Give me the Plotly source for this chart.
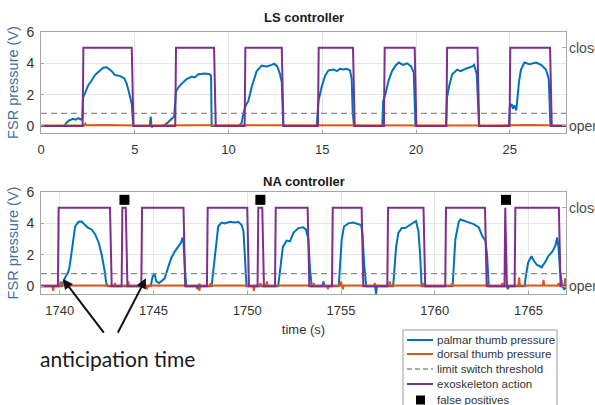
import plotly.graph_objects as go

# ---------------- data ----------------
# LS controller session (time in s, pressure in V)
ls_palmar_t = [0, 1.25, 1.35, 1.5, 1.7, 1.85, 2.0, 2.15, 2.2,
               2.24, 2.35, 2.52, 2.7, 2.88, 3.1, 3.32, 3.5, 3.65, 3.77, 3.95, 4.2, 4.43, 4.57, 4.7, 4.84, 4.92,
               5.8, 5.85, 5.9, 5.95,
               6.5, 6.7, 6.97, 7.1, 7.2, 7.35, 7.5, 7.77, 8.04, 8.2, 8.39, 8.75, 9.0, 9.07, 9.1,
               10.55, 10.7, 10.79, 10.92, 11.06, 11.24, 11.5, 11.77, 12.04, 12.3, 12.43, 12.6, 12.75, 12.84, 12.92,
               14.7, 14.76, 14.8, 14.97, 15.15, 15.33, 15.6, 15.78, 15.95, 16.13, 16.3, 16.48, 16.57, 16.62, 16.69,
               18.2, 18.25, 18.36, 18.54, 18.72, 18.9, 19.08, 19.31, 19.53, 19.74, 19.88, 19.97,
               21.6, 21.65, 21.76, 21.93, 22.2, 22.38, 22.65, 23.0, 23.1, 23.24, 23.36,
               24.96, 25.0, 25.1, 25.17, 25.26, 25.35, 25.49, 25.6, 25.78, 26.05, 26.4, 26.67, 26.93, 27.08, 27.17,
               28]
ls_palmar_v = [0, 0, 0.2, 0.35, 0.45, 0.4, 0.5, 0.4, 0.45,
               1.8, 2.1, 2.6, 2.9, 3.25, 3.5, 3.72, 3.75, 3.6, 3.5, 3.25, 3.2, 3.05, 2.7, 2.1, 1.4, 0,
               0, 0.6, -0.1, 0,
               0, 0.15, 0.5, 0.6, 2.2, 2.5, 2.7, 3.0, 3.15, 3.1, 3.3, 3.35, 3.3, 3.2, 0,
               0, 0.2, 0.8, 1.3, 1.6, 2.5, 3.5, 3.85, 3.8, 3.9, 3.97, 3.8, 3.3, 2.8, 0,
               0, 1.0, 1.6, 2.5, 3.2, 3.55, 3.6, 3.5, 3.65, 3.6, 3.65, 3.55, 3.0, 1.0, 0,
               0, 1.6, 2.0, 2.9, 3.5, 3.85, 4.05, 3.9, 4.0, 3.8, 3.4, 0,
               0, 1.8, 2.5, 3.3, 3.6, 3.5, 3.65, 3.8, 3.9, 3.3, 0,
               0, 1.2, 1.4, 1.1, 1.3, 1.0, 2.8, 3.6, 4.05, 3.95, 4.05, 3.9, 3.6, 3.0, 0,
               0]
ls_dorsal_t = [0, 2.3, 2.36, 2.42, 3.5, 5.0, 8.0, 11.5, 14.0, 16.0, 19.0, 22.0, 24.0, 26.0, 27.3, 28]
ls_dorsal_v = [0.03, 0.03, 0.15, 0.04, 0.06, 0.03, 0.05, 0.04, 0.03, 0.06, 0.04, 0.05, 0.03, 0.06, 0.04, 0.03]
ls_close_on = [2.22, 7.16, 10.86, 14.77, 18.29, 21.62, 24.99]
ls_close_off = [4.84, 9.23, 12.84, 16.64, 19.93, 23.28, 27.15]

# NA controller session
na_palmar_t = [1739, 1740.1, 1740.27, 1740.45, 1740.52, 1740.6, 1740.7, 1740.82, 1741.0, 1741.18, 1741.3,
               1741.48, 1741.71, 1741.89, 1742.07, 1742.24, 1742.39, 1742.48, 1742.55,
               1744.85, 1744.95, 1745.05, 1745.15, 1745.3, 1745.4, 1745.6, 1745.78, 1745.95, 1746.13, 1746.3,
               1746.4, 1746.48, 1746.55, 1746.6, 1746.68, 1746.75,
               1747.3, 1747.35, 1747.45, 1747.5,
               1748.1, 1748.15, 1748.27, 1748.36, 1748.45, 1748.63, 1748.8, 1749.07, 1749.34, 1749.52, 1749.7,
               1749.8, 1749.87, 1749.96,
               1751.65, 1751.7, 1751.78, 1751.9, 1752.1, 1752.28, 1752.46, 1752.73, 1752.99, 1753.13, 1753.26,
               1753.35, 1753.44,
               1754.0, 1754.06, 1754.12,
               1754.88, 1754.95, 1755.04, 1755.16, 1755.39, 1755.66, 1755.93, 1756.07, 1756.15, 1756.23, 1756.34,
               1756.82, 1756.87, 1756.92,
               1757.78, 1757.83, 1757.94, 1758.06, 1758.24, 1758.42, 1758.6, 1758.77, 1759.0, 1759.13, 1759.22, 1759.3,
               1760.95, 1761.0, 1761.1, 1761.28, 1761.37, 1761.73, 1762.08, 1762.35, 1762.53, 1762.7, 1762.79, 1762.88,
               1763.85, 1763.9, 1763.95,
               1764.8, 1764.84, 1764.98, 1765.16, 1765.3, 1765.45, 1765.55, 1765.7, 1765.87, 1766.05, 1766.27,
               1766.44, 1766.53, 1766.6, 1766.68, 1766.8, 1766.9, 1767]
na_palmar_v = [0, 0, 0.5, 0.9, 1.2, 2.0, 3.0, 3.8, 4.1, 4.12, 3.95,
               3.75, 3.6, 3.3, 2.8, 2.0, 1.0, 0.2, 0,
               0, 0.6, 0.8, 0.3, 0.2, 0.3, 0.5, 1.2, 1.8, 2.2, 2.5,
               2.6, 2.8, 3.1, 2.8, 1.0, 0,
               0, -0.2, 0.15, 0,
               0, 0.5, 2.0, 3.0, 3.8, 4.05, 4.0, 4.1, 4.05, 4.1, 3.9,
               3.5, 2.0, 0,
               0, 0.5, 1.5, 2.5, 2.9, 2.85, 3.4, 3.7, 3.75, 3.6, 3.0,
               1.0, 0,
               0, 0.3, 0,
               0, 1.5, 3.0, 3.8, 4.0, 4.05, 3.95, 3.9, 3.3, 1.5, 0,
               0, -0.5, 0,
               0, 1.0, 2.5, 3.4, 3.7, 3.7, 3.85, 4.0, 4.15, 3.5, 2.0, 0,
               0, 1.0, 3.0, 4.1, 4.25, 4.1, 3.95, 3.75, 3.2, 2.9, 2.0, 0,
               0, -0.2, 0,
               0, 0.5, 1.5, 1.9, 1.6, 1.35, 1.3, 1.2, 1.5, 1.9, 2.2,
               2.6, 3.1, 2.5, 1.0, 0, -0.2, -0.1]
na_dorsal_spike_t = [1739.65, 1740.05, 1742.95, 1743.65, 1744.65, 1747.45, 1748.05, 1750.35, 1750.7,
                     1751.05, 1753.55, 1754.3, 1755.0, 1755.1, 1756.8, 1757.6, 1759.4, 1760.9, 1762.8,
                     1763.6, 1764.5, 1765.8, 1766.6, 1766.95]
na_dorsal_spike_v = [-0.3, 0.3, 0.2, 0.3, -0.2, -0.3, 0.2, -0.3, 0.2,
                     0.3, 0.2, -0.2, 0.3, -0.2, 0.2, 0.3, 0.2, 0.15, 0.2,
                     0.2, 0.55, 0.4, 0.2, 0.5]
na_close_on = [1739.9, 1743.3, 1744.35, 1747.85, 1750.55, 1751.48, 1754.52, 1757.47, 1760.56, 1763.72, 1764.26]
na_close_off = [1742.68, 1743.52, 1746.6, 1750.0, 1750.8, 1753.22, 1756.1, 1759.4, 1762.68, 1763.76, 1766.62]
na_false_pos_t = [1743.45, 1750.7, 1763.8]
na_false_pos_v = [5.5, 5.5, 5.5]

threshold = 0.8
ls_range = [0, 28]
na_range = [1739, 1767]
closed_level, open_level = 5, 0

assert len(ls_palmar_t) == len(ls_palmar_v)
assert len(na_palmar_t) == len(na_palmar_v)

BLUE = "#0072BD"
ORANGE = "#E0561A"
PURPLE = "#7E2F8E"
GRID = "#e6e6e6"
FRAME = "#a6a6a6"
FONT = "Liberation Sans, Arial, sans-serif"


def action_wave(t0, t1, on, off, up=0.04, down=0.09):
    xs, ys = [t0], [open_level]
    for r, f in zip(on, off):
        xs += [r, r + up, f, f + down]
        ys += [open_level, closed_level, closed_level, open_level]
    xs.append(t1)
    ys.append(open_level)
    return xs, ys


def spiky(t0, t1, spikes_t, spikes_v, base=0.04, w=0.04):
    xs, ys = [t0], [base]
    for t, v in zip(spikes_t, spikes_v):
        xs += [t - w, t, t + w]
        ys += [base, v, base]
    xs.append(t1)
    ys.append(base)
    return xs, ys


fig = go.Figure()

# ---- LS panel ----
fig.add_trace(go.Scatter(x=ls_palmar_t, y=ls_palmar_v, mode="lines", line=dict(color=BLUE, width=2),
                         xaxis="x", yaxis="y", name="palmar thumb pressure"))
fig.add_trace(go.Scatter(x=ls_dorsal_t, y=ls_dorsal_v, mode="lines", line=dict(color=ORANGE, width=2),
                         xaxis="x", yaxis="y", name="dorsal thumb pressure"))
fig.add_trace(go.Scatter(x=ls_range, y=[threshold, threshold], mode="lines",
                         line=dict(color="#8c8c8c", width=1.3, dash="6px,4px"),
                         xaxis="x", yaxis="y", name="limit switch threshold"))
wx, wy = action_wave(ls_range[0], ls_range[1], ls_close_on, ls_close_off)
fig.add_trace(go.Scatter(x=wx, y=wy, mode="lines", line=dict(color=PURPLE, width=2),
                         xaxis="x", yaxis="y2", name="exoskeleton action"))

# ---- NA panel ----
fig.add_trace(go.Scatter(x=na_palmar_t, y=na_palmar_v, mode="lines", line=dict(color=BLUE, width=2),
                         xaxis="x2", yaxis="y3", name="palmar thumb pressure"))
dx, dy = spiky(na_range[0], na_range[1], na_dorsal_spike_t, na_dorsal_spike_v)
fig.add_trace(go.Scatter(x=dx, y=dy, mode="lines", line=dict(color=ORANGE, width=2),
                         xaxis="x2", yaxis="y3", name="dorsal thumb pressure"))
fig.add_trace(go.Scatter(x=na_range, y=[threshold, threshold], mode="lines",
                         line=dict(color="#8c8c8c", width=1.3, dash="6px,4px"),
                         xaxis="x2", yaxis="y3", name="limit switch threshold"))
wx, wy = action_wave(na_range[0], na_range[1], na_close_on, na_close_off)
fig.add_trace(go.Scatter(x=wx, y=wy, mode="lines", line=dict(color=PURPLE, width=2),
                         xaxis="x2", yaxis="y4", name="exoskeleton action"))
fig.add_trace(go.Scatter(x=na_false_pos_t, y=na_false_pos_v, mode="markers", cliponaxis=False,
                         marker=dict(symbol="square", size=10, color="black"),
                         xaxis="x2", yaxis="y4", name="false positives"))

W, H = 595, 405
ML, MR, MT, MB = 41, 29, 32, 111
PW, PH = W - ML - MR, H - MT - MB


def px(x):
    return (x - ML) / PW


def py(y):
    return (H - MB - y) / PH


top_dom = [py(133), 1]
bot_dom = [0, py(192)]

xcommon = dict(showgrid=True, gridcolor=GRID, gridwidth=1, zeroline=False, showline=True, mirror=True,
               linecolor=FRAME, linewidth=1, ticks="inside", ticklen=3, tickcolor=FRAME, automargin=False,
               tickfont=dict(size=13, color="#333333"), ticklabelstandoff=4)
ycommon = dict(showgrid=True, gridcolor=GRID, gridwidth=1, zeroline=False, showline=True, mirror=True,
               linecolor=FRAME, linewidth=1, ticks="inside", ticklen=3, tickcolor=FRAME, automargin=False,
               tickvals=[0, 2, 4, 6], tickfont=dict(size=14, color="#333333"), ticklabelstandoff=3,
               title=dict(text="FSR pressure (V)", font=dict(size=14.5, color="#3f70a0"), standoff=4))
rcommon = dict(side="right", showgrid=False, zeroline=False, showline=False, automargin=False,
               ticks="inside", ticklen=4, tickcolor=FRAME, tickvals=[open_level, closed_level],
               ticktext=["open", "close"], tickfont=dict(size=14, color="#4a4a4a"), ticklabelstandoff=2)

fig.update_layout(
    width=W, height=H, margin=dict(l=ML, r=MR, t=MT, b=MB, autoexpand=False),
    paper_bgcolor="white", plot_bgcolor="white", showlegend=False,
    font=dict(family=FONT, color="#333333"),
    xaxis=dict(domain=[0, 1], anchor="y", range=ls_range, tickvals=[0, 5, 10, 15, 20, 25], **xcommon),
    yaxis=dict(domain=top_dom, anchor="x", range=[-0.45, 6], **ycommon),
    yaxis2=dict(rcommon, overlaying="y", anchor="x", range=[-0.45, 6]),
    xaxis2=dict(domain=[0, 1], anchor="y3", range=na_range,
                tickvals=[1740, 1745, 1750, 1755, 1760, 1765],
                title=dict(text="time (s)", font=dict(size=13, color="#333333"), standoff=8), **xcommon),
    yaxis3=dict(domain=bot_dom, anchor="x2", range=[-0.5, 6], **ycommon),
    yaxis4=dict(rcommon, overlaying="y3", anchor="x2", range=[-0.5, 6]),
)

ann = [
    dict(text="<b>LS controller</b>", xref="paper", yref="paper", x=0.5, y=py(17), showarrow=False,
         font=dict(size=13, color="#1a1a1a"), xanchor="center", yanchor="middle"),
    dict(text="<b>NA controller</b>", xref="paper", yref="paper", x=0.5, y=py(181), showarrow=False,
         font=dict(size=13, color="#1a1a1a"), xanchor="center", yanchor="middle"),
    dict(text="anticipation time", xref="paper", yref="paper", x=px(117), y=py(358), showarrow=False,
         font=dict(size=21, color="#1a1a1a", family="Lato, Open Sans, sans-serif"),
         xanchor="center", yanchor="middle"),
    dict(text="", xref="x2", yref="y3", x=1740.17, y=0.45, ax=42, ay=55, showarrow=True,
         arrowhead=2, arrowsize=1, arrowwidth=2, arrowcolor="#111111"),
    dict(text="", xref="x2", yref="y3", x=1744.6, y=0.5, ax=-29, ay=56, showarrow=True,
         arrowhead=2, arrowsize=1, arrowwidth=2, arrowcolor="#111111"),
]

# legend box drawn below the lower panel
shapes = [dict(type="rect", xref="paper", yref="paper", x0=px(403), x1=px(557), y0=py(420), y1=py(330),
               line=dict(color="#9a9a9a", width=1), fillcolor="white", layer="above")]
legend_rows = [
    ("palmar thumb pressure", dict(color=BLUE, width=2), 340),
    ("dorsal thumb pressure", dict(color=ORANGE, width=2), 354),
    ("limit switch threshold", dict(color="#8c8c8c", width=1.3, dash="5px,3px"), 369),
    ("exoskeleton action", dict(color=PURPLE, width=2), 384),
    ("false positives", None, 400),
]
for label, style, yy in legend_rows:
    if style is not None:
        shapes.append(dict(type="line", xref="paper", yref="paper", x0=px(407), x1=px(433),
                           y0=py(yy), y1=py(yy), line=style, layer="above"))
    else:
        shapes.append(dict(type="rect", xref="paper", yref="paper", x0=px(416), x1=px(425),
                           y0=py(yy + 4.5), y1=py(yy - 4.5), line=dict(width=0),
                           fillcolor="black", layer="above"))
    ann.append(dict(text=label, xref="paper", yref="paper", x=px(435), y=py(yy), showarrow=False,
                    xanchor="left", yanchor="middle", font=dict(size=11.5, color="#333333")))

fig.update_layout(annotations=ann, shapes=shapes)
fig.write_html("out.html")
